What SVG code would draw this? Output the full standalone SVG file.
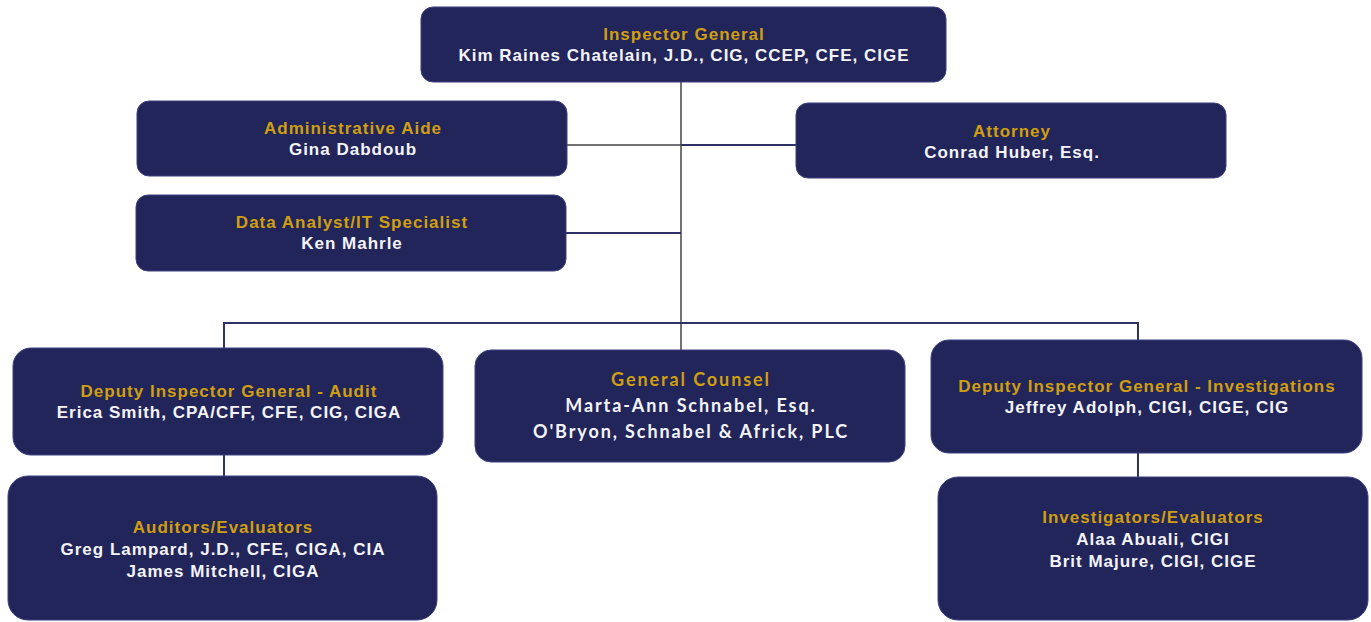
<svg xmlns="http://www.w3.org/2000/svg" width="1371" height="622" viewBox="0 0 1371 622">
<style>
.box{fill:#22255a;stroke:#3d4180;stroke-width:1}
.t{font-family:"Liberation Sans",Arial,sans-serif;font-weight:bold;font-size:17px;text-anchor:middle;letter-spacing:1px}
.g{font-family:Lato,"Liberation Sans",sans-serif;font-weight:bold;font-size:18px;text-anchor:middle;letter-spacing:1.9px}
.ti{fill:#d09f10}
.nm{fill:#f4f4f8}
.ln{fill:none;stroke:#2e3168;stroke-width:2}
.lg{fill:none;stroke:#444;stroke-width:1.5}
</style>
<rect width="1371" height="622" fill="#ffffff"/>
<g id="connectors">
<path class="lg" d="M681 82V350"/>
<path class="lg" d="M567 145H681"/>
<path class="ln" d="M681 145H796"/>
<path class="ln" d="M566 233H681"/>
<path class="ln" d="M224 348V323H1138V340"/>
<path class="ln" d="M224 455V476"/>
<path class="ln" d="M1138 453V477"/>
</g>
<g id="inspector-general">
<rect class="box" x="421" y="7" width="525" height="75" rx="12"/>
<text class="t ti" x="684" y="40">Inspector General</text>
<text class="t nm" x="684" y="61">Kim Raines Chatelain, J.D., CIG, CCEP, CFE, CIGE</text>
</g>
<g id="administrative-aide">
<rect class="box" x="137" y="101" width="430" height="75" rx="12"/>
<text class="t ti" x="353" y="134">Administrative Aide</text>
<text class="t nm" x="353" y="155">Gina Dabdoub</text>
</g>
<g id="attorney">
<rect class="box" x="796" y="103" width="430" height="75" rx="12"/>
<text class="t ti" x="1012" y="137">Attorney</text>
<text class="t nm" x="1012" y="158">Conrad Huber, Esq.</text>
</g>
<g id="data-analyst">
<rect class="box" x="136" y="195" width="430" height="76" rx="12"/>
<text class="t ti" x="352" y="228">Data Analyst/IT Specialist</text>
<text class="t nm" x="352" y="249">Ken Mahrle</text>
</g>
<g id="deputy-audit">
<rect class="box" x="13" y="348" width="430" height="107" rx="18"/>
<text class="t ti" x="229" y="397">Deputy Inspector General - Audit</text>
<text class="t nm" x="229" y="418">Erica Smith, CPA/CFF, CFE, CIG, CIGA</text>
</g>
<g id="auditors">
<rect class="box" x="8" y="476" width="429" height="144" rx="20"/>
<text class="t ti" x="223" y="533">Auditors/Evaluators</text>
<text class="t nm" x="223" y="555">Greg Lampard, J.D., CFE, CIGA, CIA</text>
<text class="t nm" x="223" y="577">James Mitchell, CIGA</text>
</g>
<g id="general-counsel">
<rect class="box" x="475" y="350" width="430" height="112" rx="16"/>
<text class="g ti" x="691" y="386">General Counsel</text>
<text class="g nm" x="691" y="412">Marta-Ann Schnabel, Esq.</text>
<text class="g nm" x="691" y="438">O'Bryon, Schnabel &amp; Africk, PLC</text>
</g>
<g id="deputy-investigations">
<rect class="box" x="931" y="340" width="431" height="113" rx="18"/>
<text class="t ti" x="1147" y="392">Deputy Inspector General - Investigations</text>
<text class="t nm" x="1147" y="413">Jeffrey Adolph, CIGI, CIGE, CIG</text>
</g>
<g id="investigators">
<rect class="box" x="938" y="477" width="430" height="143" rx="20"/>
<text class="t ti" x="1153" y="523">Investigators/Evaluators</text>
<text class="t nm" x="1153" y="545">Alaa Abuali, CIGI</text>
<text class="t nm" x="1153" y="567">Brit Majure, CIGI, CIGE</text>
</g>
</svg>
